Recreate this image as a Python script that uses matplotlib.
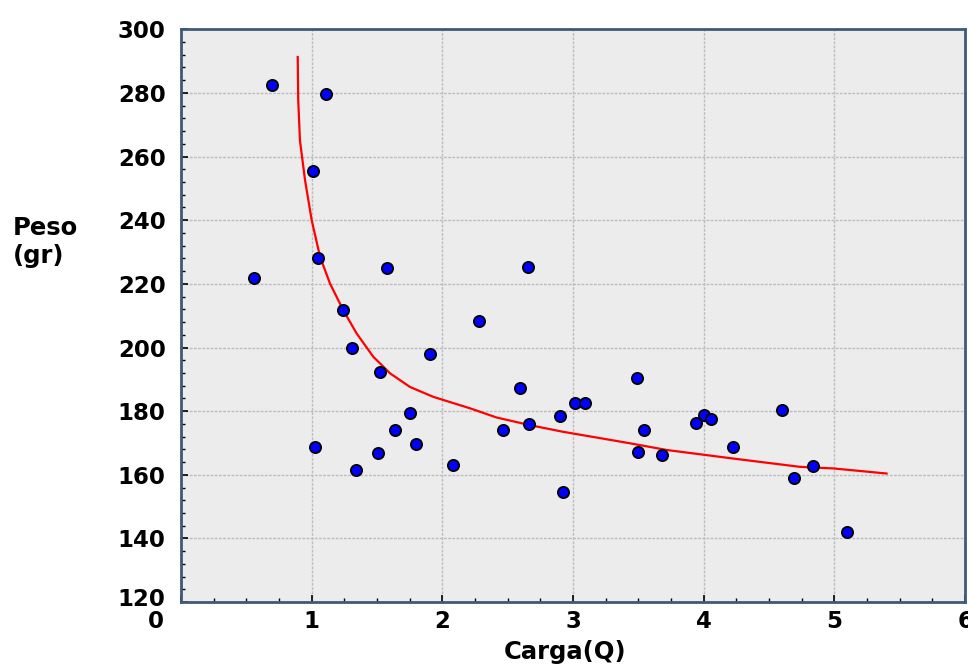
import numpy as np
import matplotlib.pyplot as plt
from matplotlib.ticker import MultipleLocator
import matplotlib.transforms as mtransforms

# measured points (Carga, Peso)
carga = [0.559, 0.696, 1.109, 1.010, 1.048, 1.025, 1.239, 1.308, 1.339, 1.523,
         1.507, 1.576, 1.637, 1.752, 1.798, 1.905, 2.081, 2.280, 2.464, 2.594,
         2.655, 2.663, 2.900, 2.923, 3.015, 3.091, 3.489, 3.497, 3.540, 3.680,
         3.940, 4.002, 4.055, 4.223, 4.598, 4.690, 4.835, 5.096]
peso = [221.8, 282.4, 279.6, 255.4, 228.1, 168.7, 211.7, 199.8, 161.5, 192.3,
        166.8, 224.9, 174.0, 179.4, 169.6, 197.9, 163.0, 208.3, 174.0, 187.2,
        225.2, 175.9, 178.4, 154.6, 182.5, 182.5, 190.4, 167.1, 174.0, 166.2,
        176.2, 178.7, 177.5, 168.7, 180.3, 159.0, 162.7, 142.0]

# fitted curve
fit_x = [0.893, 0.897, 0.910, 0.949, 1.000, 1.064, 1.140, 1.242, 1.344, 1.471,
         1.599, 1.752, 1.930, 2.211, 2.415, 2.670, 2.925, 3.181, 3.435, 3.716,
         4.226, 4.736, 4.991, 5.399]
fit_y = [291.3, 277.7, 265.1, 252.6, 240.0, 228.5, 220.1, 211.7, 204.4, 197.1,
         191.9, 187.6, 184.5, 180.9, 178.0, 175.6, 173.5, 171.7, 169.9, 167.8,
         165.1, 162.5, 162.0, 160.4]

xticks = [0, 1, 2, 3, 4, 5, 6]
yticks = [120, 140, 160, 180, 200, 220, 240, 260, 280, 300]

fig = plt.figure(figsize=(9.68, 6.66), dpi=100)
ax = fig.add_axes([0.187, 0.096, 0.810, 0.860])
ax.set_facecolor('#ececec')

ax.plot(fit_x, fit_y, color='#ff0000', lw=1.6, zorder=3)
ax.scatter(carga, peso, s=65, c='#0000ff', edgecolors='black', linewidths=1.3, zorder=4)

ax.set_xlim(0, 6)
ax.set_ylim(120, 300)
ax.set_xticks(xticks)
ax.set_yticks(yticks)
ax.xaxis.set_minor_locator(MultipleLocator(0.25))
ax.yaxis.set_minor_locator(MultipleLocator(4))
ax.grid(True, which='major', color='#bdbdbd', lw=1.0, ls=(0, (2, 1)))
ax.set_axisbelow(True)

ax.tick_params(which='both', direction='in', colors='black', top=False, right=False)
ax.tick_params(which='major', length=5, width=1.2)
ax.tick_params(which='minor', length=3, width=1.0)
ax.tick_params(axis='x', pad=6)
ax.tick_params(axis='y', pad=11)
for lab in ax.get_xticklabels() + ax.get_yticklabels():
    lab.set_fontsize(16.5)
    lab.set_fontweight('bold')

# the "0" sits left of the axis corner, the "120" a little above its line
xl = ax.get_xticklabels()
xl[0].set_transform(xl[0].get_transform() +
                    mtransforms.ScaledTranslation(-25 / 100, 0, fig.dpi_scale_trans))
yl = ax.get_yticklabels()
yl[0].set_transform(yl[0].get_transform() +
                    mtransforms.ScaledTranslation(0, 5 / 100, fig.dpi_scale_trans))

for sp in ax.spines.values():
    sp.set_color('#3f5a78')
    sp.set_linewidth(2)

ax.set_xlabel('Carga(Q)', fontsize=17.5, fontweight='bold')
ax.xaxis.set_label_coords(0.4895, -0.066)
fig.text(13 / 968, 1 - 242 / 666, 'Peso\n(gr)', fontsize=17.5, fontweight='bold',
         ha='left', va='center', linespacing=1.25)

fig.savefig('out.png', dpi=100)
